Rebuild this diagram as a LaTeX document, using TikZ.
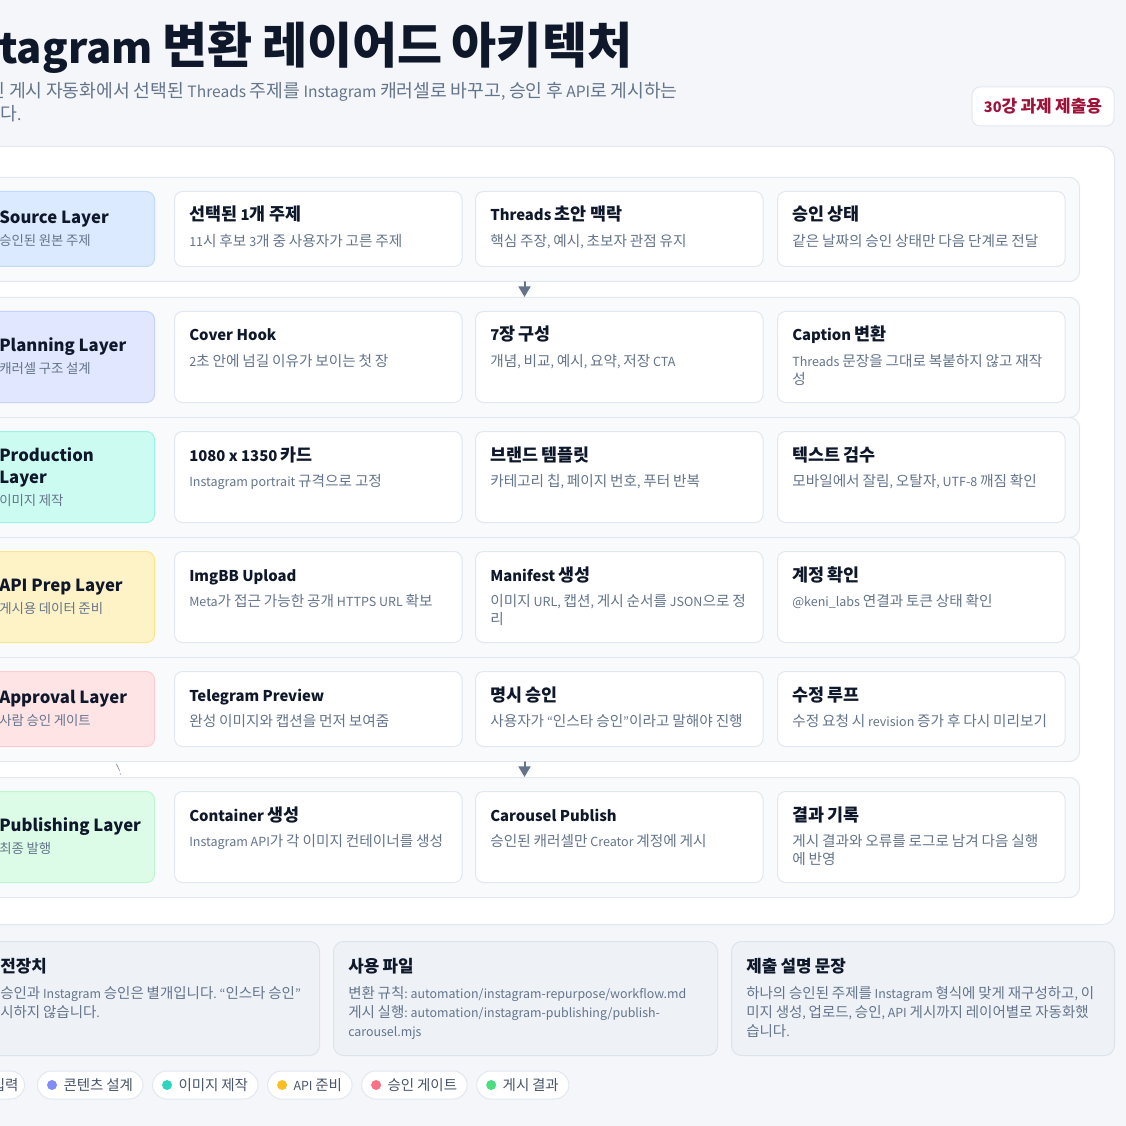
\documentclass[tikz,border=0pt]{standalone}
\usepackage{fontspec}
\setmainfont{Noto Sans CJK KR}
\newfontfamily\hangulfont{Noto Sans CJK KR}[Scale=1.17]
\usetikzlibrary{calc,arrows.meta,positioning}

% hangul set a little larger than the latin letters
\XeTeXinterchartokenstate=1
\newXeTeXintercharclass\hangulclass
\newcount\hgcount
\hgcount="AC00
\loop\ifnum\hgcount<"D7A4
  \XeTeXcharclass\hgcount=\hangulclass
  \advance\hgcount by 1
\repeat
\XeTeXinterchartoks 0 \hangulclass = {\hangulfont}
\XeTeXinterchartoks 4095 \hangulclass = {\hangulfont}
\XeTeXinterchartoks \hangulclass 0 = {\rmfamily}
\XeTeXinterchartoks \hangulclass 4095 = {\rmfamily}
% spaces as characters, so the switch also happens between words
\chardef\kspace=32
\ExplSyntaxOn
\tl_new:N \l_ks_tl
\cs_new_protected:Npn \kotext #1
  {
    \tl_set:No \l_ks_tl {#1}
    \tl_replace_all:Nnn \l_ks_tl {~} {\kspace}
    \tl_use:N \l_ks_tl
  }
\ExplSyntaxOff

\definecolor{pagebg}{HTML}{F4F6F9}
\definecolor{edge}{HTML}{E2E8F0}
\definecolor{rowbg}{HTML}{F8FAFC}
\definecolor{ink}{HTML}{0F172A}
\definecolor{muted}{HTML}{64748B}
\definecolor{legendink}{HTML}{475569}
\definecolor{notebg}{HTML}{EEF2F7}
\definecolor{noteedge}{HTML}{DDE3EA}
\definecolor{badgeink}{HTML}{9F1239}
\definecolor{fillsrc}{HTML}{DBEAFE}  \definecolor{edgesrc}{HTML}{BFDBFE}
\definecolor{fillplan}{HTML}{E0E7FF} \definecolor{edgeplan}{HTML}{C7D2FE}
\definecolor{fillprod}{HTML}{CCFBF1} \definecolor{edgeprod}{HTML}{99F6E4}
\definecolor{fillapi}{HTML}{FEF3C7}  \definecolor{edgeapi}{HTML}{FDE68A}
\definecolor{fillappr}{HTML}{FFE4E6} \definecolor{edgeappr}{HTML}{FECDD3}
\definecolor{fillpub}{HTML}{DCFCE7}  \definecolor{edgepub}{HTML}{BBF7D0}
\definecolor{dotplan}{HTML}{818CF8}
\definecolor{dotprod}{HTML}{2DD4BF}
\definecolor{dotapi}{HTML}{FBBF24}
\definecolor{dotappr}{HTML}{FB7185}
\definecolor{dotpub}{HTML}{4ADE80}

\tikzset{
  panel/.style={draw=edge,fill=white,line width=0.75pt,rounded corners=9pt,inner sep=0pt,anchor=north west},
  rowbox/.style={draw=edge,fill=rowbg,line width=0.75pt,rounded corners=7.5pt,inner sep=0pt,anchor=north west,minimum width=1110*0.75pt},
  layerbox/.style={line width=0.75pt,rounded corners=6pt,inner sep=0pt,anchor=north west,minimum width=171*0.75pt},
  card/.style={draw=edge,fill=white,line width=0.75pt,rounded corners=6pt,inner sep=0pt,anchor=north west,minimum width=287.5*0.75pt},
  cardtitle/.style={inner sep=0pt,anchor=base west,text=ink,font=\fontsize{11.15}{14}\selectfont\bfseries},
  carddesc/.style={inner sep=0pt,anchor=north west,align=left,text=muted,font=\fontsize{9.4}{13.5}\selectfont},
  layertitle/.style={inner sep=0pt,anchor=north west,align=left,text=ink,font=\fontsize{12.5}{16.5}\selectfont\bfseries},
  layerdesc/.style={inner sep=0pt,anchor=base west,text=muted,font=\fontsize{8.6}{11}\selectfont},
  note/.style={draw=noteedge,fill=notebg,line width=0.75pt,rounded corners=7.5pt,inner sep=0pt,anchor=north west,minimum height=114*0.75pt},
  notetitle/.style={inner sep=0pt,anchor=base west,text=ink,font=\fontsize{10.8}{14}\selectfont\bfseries},
  notetext/.style={inner sep=0pt,anchor=north west,align=left,text=muted,font=\fontsize{9.3}{14.25}\selectfont},
  pill/.style={draw=edge,fill=white,line width=0.75pt,rounded corners=10.5pt,minimum height=28*0.75pt,inner xsep=7.5pt,inner ysep=0pt,text=legendink,font=\fontsize{9.3}{12}\selectfont},
  badge/.style={draw=edge,fill=white,line width=0.75pt,rounded corners=6pt,minimum width=142*0.75pt,minimum height=39*0.75pt,text=badgeink,font=\fontsize{10.9}{13}\selectfont\bfseries},
  flow/.style={draw=muted,line width=1.5pt,-{Triangle[length=8pt,width=9pt]}}
}

\begin{document}
\begin{tikzpicture}[line cap=round,line join=round,x=0.75pt,y=-0.75pt]
\useasboundingbox (0,0) rectangle (1126,1126);
\clip (0,0) rectangle (1126,1126);
\fill[pagebg] (0,0) rectangle (1126,1126);

% header
\node[inner sep=0pt,anchor=base west,text=ink,font=\fontsize{31.4}{38}\selectfont\bfseries] (head) at (-1,64) {\kotext{tagram 변환 레이어드 아키텍처}};
\node[inner sep=0pt,anchor=base west,text=muted,font=\fontsize{11.7}{16}\selectfont] (sub1) at (-11.5,98) {\kotext{인 게시 자동화에서 선택된 Threads 주제를 Instagram 캐러셀로 바꾸고, 승인 후 API로 게시하는}};
\node[inner sep=0pt,anchor=base west,text=muted,font=\fontsize{11.7}{16}\selectfont] (sub2) at (0,121) {다.};
\node[badge] (tag) at (1043,106.5) {\kotext{30강 과제 제출용}};

\node[panel,minimum width=1194*0.75pt,minimum height=778*0.75pt] (board) at (-80,146) {};

% layer rows
\foreach \nm/\top/\h in {row1/177/104, row2/297/120, row3/417/120, row4/537/120, row5/657/104, row6/777/120}
  \node[rowbox,minimum height=\h*0.75pt] (\nm) at (-31,\top) {};

\draw[flow] (row1.south) -- (row2.north);
\draw[flow] (row5.south) -- (row6.north);
\draw[muted!80,line width=0.5pt] (116.5,764) -- (119.5,770.5);
\fill[muted!80] (120.5,774) circle (0.4pt);

% layer names
\foreach \nm/\top/\h/\col/\ty/\dy/\ti/\de in {
  lay1/191/75/src/208.1/245.5/{Source Layer}/{승인된 원본 주제},
  lay2/311/91/plan/336.1/373.5/{Planning Layer}/{캐러셀 구조 설계},
  lay3/431/91/prod/446.3/505.6/{Production\\Layer}/{이미지 제작},
  lay4/551/91/api/576.1/613.5/{API Prep Layer}/{게시용 데이터 준비},
  lay5/671/75/appr/688.1/725.5/{Approval Layer}/{사람 승인 게이트},
  lay6/791/91/pub/816.1/853.5/{Publishing Layer}/{최종 발행}}
{
  \node[layerbox,fill=fill\col,draw=edge\col,minimum height=\h*0.75pt] (\nm) at (-17,\top) {};
  \node[layertitle] (\nm-t) at (-1,\ty) {\strut\ti};
  \node[layerdesc] (\nm-d) at (-1,\dy) {\kotext{\de}};
};

% cards
\foreach \nm/\left/\top/\h/\ti/\de in {
  c11/174/191/75/{선택된 1개 주제}/{11시 후보 3개 중 사용자가 고른 주제},
  c12/475/191/75/{Threads 초안 맥락}/{핵심 주장, 예시, 초보자 관점 유지},
  c13/777/191/75/{승인 상태}/{같은 날짜의 승인 상태만 다음 단계로 전달},
  c21/174/311/91/{Cover Hook}/{2초 안에 넘길 이유가 보이는 첫 장},
  c22/475/311/91/{7장 구성}/{개념, 비교, 예시, 요약, 저장 CTA},
  c23/777/311/91/{Caption 변환}/{Threads 문장을 그대로 복붙하지 않고 재작\\성},
  c31/174/431/91/{1080 x 1350 카드}/{Instagram portrait 규격으로 고정},
  c32/475/431/91/{브랜드 템플릿}/{카테고리 칩, 페이지 번호, 푸터 반복},
  c33/777/431/91/{텍스트 검수}/{모바일에서 잘림, 오탈자, UTF-8 깨짐 확인},
  c41/174/551/91/{ImgBB Upload}/{Meta가 접근 가능한 공개 HTTPS URL 확보},
  c42/475/551/91/{Manifest 생성}/{이미지 URL, 캡션, 게시 순서를 JSON으로 정\\리},
  c43/777/551/91/{계정 확인}/{@keni\_labs 연결과 토큰 상태 확인},
  c51/174/671/75/{Telegram Preview}/{완성 이미지와 캡션을 먼저 보여줌},
  c52/475/671/75/{명시 승인}/{사용자가 “인스타 승인”이라고 말해야 진행},
  c53/777/671/75/{수정 루프}/{수정 요청 시 revision 증가 후 다시 미리보기},
  c61/174/791/91/{Container 생성}/{Instagram API가 각 이미지 컨테이너를 생성},
  c62/475/791/91/{Carousel Publish}/{승인된 캐러셀만 Creator 계정에 게시},
  c63/777/791/91/{결과 기록}/{게시 결과와 오류를 로그로 남겨 다음 실행\\에 반영}}
{
  \node[card,minimum height=\h*0.75pt] (\nm) at (\left,\top) {};
  \node[cardtitle] (\nm-t) at ($(\nm.north west)+(15,30)$) {\kotext{\ti}};
  \node[carddesc] (\nm-d) at ($(\nm.north west)+(15,42.4)$) {\strut\kotext{\de}};
};

% notes
\node[note,minimum width=399*0.75pt] (note1) at (-80,941) {};
\node[note,minimum width=384*0.75pt] (note2) at (333,941) {};
\node[note,minimum width=383*0.75pt] (note3) at (731,941) {};

\node[notetitle] (note1-t) at (0,972) {전장치};
\node[notetext] (note1-d) at (0,984.7) {\strut\kotext{승인과 Instagram 승인은 별개입니다. “인스타 승인”\\시하지 않습니다.}};
\node[notetitle] (note2-t) at (348,972) {\kotext{사용 파일}};
\node[notetext] (note2-d) at (348,984.7) {\strut\kotext{변환 규칙: automation/instagram-repurpose/workflow.md\\게시 실행: automation/instagram-publishing/publish-\\carousel.mjs}};
\node[notetitle] (note3-t) at (746,972) {\kotext{제출 설명 문장}};
\node[notetext] (note3-d) at (746,984.7) {\strut\kotext{하나의 승인된 주제를 Instagram 형식에 맞게 재구성하고, 이\\미지 생성, 업로드, 승인, API 게시까지 레이어별로 자동화했\\습니다.}};

% legend
\node[pill,anchor=east,inner xsep=4.5pt] (p0) at (25,1085) {입력};
\node[pill,anchor=west] (p1) at (37,1085) {\hspace*{12pt}\kotext{콘텐츠 설계}};
\node[pill,right=6.4pt of p1] (p2) {\hspace*{12pt}\kotext{이미지 제작}};
\node[pill,right=6.4pt of p2] (p3) {\hspace*{12pt}\kotext{API 준비}};
\node[pill,right=6.4pt of p3] (p4) {\hspace*{12pt}\kotext{승인 게이트}};
\node[pill,right=6.4pt of p4] (p5) {\hspace*{12pt}\kotext{게시 결과}};
\foreach \p/\col in {p1/dotplan, p2/dotprod, p3/dotapi, p4/dotappr, p5/dotpub}
  \fill[\col] ($(\p.west)+(15,0)$) circle (3.75pt);
\end{tikzpicture}
\end{document}
